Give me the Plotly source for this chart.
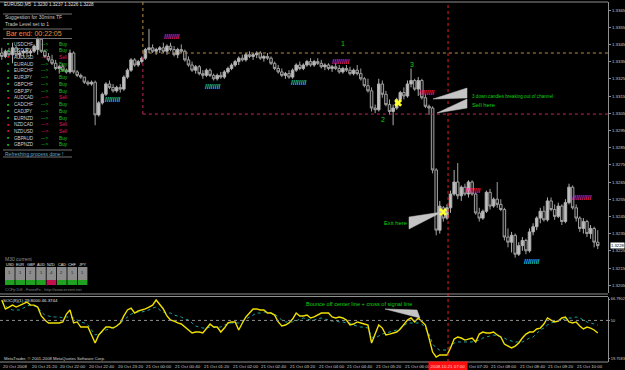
import plotly.graph_objects as go

W, H = 625, 370
FONT = "Liberation Sans"

# ---------------- data ----------------
BASE = 1.32      # prices are stored in pips above 1.3200
PIP = 0.0001

bar_open = [140,138,141,139,143,139,140,141,140,141,142,148,141,138,136,134,131,132,130,129,
            140,129,127,126,123,122,123,104,111,116,122,120,118,120,119,126,130,136,133,135,
            137,142,143,141,142,143,141,144,142,139,142,141,136,133,130,132,128,127,130,127,
            125,127,126,129,131,133,135,137,136,139,138,139,140,137,138,137,134,131,129,127,
            128,126,130,133,131,133,135,133,135,134,132,133,131,132,131,129,131,130,128,130,
            128,125,121,118,108,107,122,116,110,106,108,113,117,115,122,124,119,124,114,109,
            108,72,37,50,44,50,58,65,57,62,58,65,58,47,44,48,59,51,55,52,
            49,33,30,34,23,28,31,25,36,39,44,48,43,54,49,45,51,42,53,62,
            50,44,38,42,35,38,30]
bar_high = [143,142,143,146,144,141,142,143,142,145,149,148,142,140,139,136,133,134,131,142,
            141,130,128,126,124,124,124,112,117,123,124,122,121,122,127,131,137,137,136,138,
            143,154,145,143,144,146,145,146,144,143,145,142,138,135,133,133,130,131,131,128,
            128,129,130,132,134,136,138,139,140,141,140,141,141,139,140,138,135,133,131,129,
            130,131,134,135,134,136,137,136,137,136,134,134,133,134,133,132,133,132,131,133,
            131,126,125,120,110,125,124,118,113,110,114,118,120,124,131,125,126,125,116,110,
            109,73,54,51,52,60,72,76,63,64,66,66,59,50,49,60,61,56,65,55,
            50,38,36,35,30,33,32,38,41,45,50,51,56,56,52,53,52,55,64,63,
            52,45,44,43,40,39,37]
bar_low = [136,137,138,134,138,137,138,139,138,140,139,140,137,135,133,130,128,129,128,128,
           128,126,125,122,121,121,98,103,110,115,119,117,117,117,118,125,129,132,132,134,
           136,140,140,139,140,140,139,141,138,137,140,135,132,129,128,127,125,126,126,124,
           124,125,125,128,130,132,133,135,135,137,136,137,136,135,136,133,130,128,126,125,
           125,125,129,130,130,132,132,132,133,131,130,130,129,130,128,128,129,127,127,127,
           124,120,117,106,105,106,114,109,104,98,107,112,113,114,120,118,115,113,108,104,
           70,34,35,42,43,47,57,55,54,57,56,57,46,42,43,47,49,50,50,48,
           31,27,24,21,22,25,23,24,34,37,41,42,42,48,43,44,40,41,52,49,
           42,36,35,33,32,27,26]
bar_close = [138,141,139,143,139,140,141,140,141,144,148,141,138,136,134,131,132,130,129,140,
             129,127,126,123,122,123,104,111,116,122,120,118,120,119,126,130,136,133,135,137,
             142,143,141,142,143,141,144,142,139,142,141,136,133,130,132,128,127,130,127,125,
             127,126,129,131,133,135,137,136,139,138,139,140,137,138,137,134,131,129,127,128,
             126,130,133,131,133,135,133,135,134,132,133,131,132,131,129,131,130,128,130,128,
             125,121,118,108,107,122,116,110,106,108,113,117,115,122,124,119,124,114,109,108,
             72,37,51,44,50,58,65,57,62,58,65,58,47,44,48,59,51,55,52,49,
             33,30,34,23,28,31,25,36,39,44,48,43,54,49,45,51,42,53,62,50,
             44,38,42,35,38,30,28]

stoch_main = [66,59,60.5,62,60.5,62,63.5,64.4,62,62,60.5,53.5,50.3,48,48,48,48,48.8,55,58.2,
              48,48.8,44.8,44.8,44.8,38.6,32.3,38.6,41.7,44.8,44.8,44,45.6,48,53.5,58.2,59.7,55.8,57.4,58.2,
              59,60.5,62,66,62,59,53.5,50.3,49.5,48,47.2,44.8,42.5,40.1,40.9,40.9,40.1,43.3,47.2,44.8,
              44.8,40.9,44,48,48.8,48.8,42.5,48,52.7,55.8,59,59,58.2,58.2,55.8,55.8,54.2,48.8,45.6,46.4,
              48,51.1,55.8,53.5,53.5,54.2,51.9,52.7,54.2,55.8,55.8,55.8,52.7,51.9,52.7,51.9,50.3,46.4,47.2,48.8,
              48,47.2,46.4,32.3,39.3,46.4,44,38.6,39.3,40.1,40.9,43.3,46.4,50.3,51.9,48.8,51.9,49.5,46.4,36.2,
              25.2,21.3,22.9,22.9,22.9,28.4,35.4,37,36.2,34.6,35.4,36.2,33.1,39.3,40.9,40.1,40.1,40.9,38.6,37,
              31.5,29.9,28.4,29.9,32.3,36.2,39.3,40.9,40.9,43.3,44,47.2,51.9,50.3,48.8,49.5,51.9,52.7,48.8,48,
              48.8,45.6,43.3,44.8,44,42.5,40.1]
stoch_signal = [64.4,61.3,59,58.2,58.2,58.2,59.7,61.3,62,61.3,60.5,56.6,54.2,53.5,52.7,52.7,52.7,51.9,52.7,52.7,
                51.9,50.3,48.8,48,46.4,42.5,38.6,39.3,40.9,42.5,43.3,44.8,45.6,48,50.3,52.7,55,55.8,56.6,56.6,
                57.4,58.2,59.7,60.5,58.2,56.6,55.8,55.8,54.2,53.5,52.7,51.1,50.3,48,45.6,44.8,44,44,44.8,44.8,
                44.8,44.8,46.4,47.2,48,48,48,49.5,51.1,52.7,54.2,55.8,55.8,56.6,56.6,55.8,55,52.7,50.3,48.8,
                48.8,48.8,49.5,51.1,51.9,51.1,50.3,50.3,51.1,51.9,51.1,50.3,49.5,49.5,48.8,48.8,48,48,46.4,45.6,
                44.8,44.8,44,37,36.2,37.8,39.3,40.1,40.9,41.7,42.5,44,45.6,48,48,48,48,47.2,44,39.3,
                31.5,28.4,26.8,26.8,26.8,29.9,32.3,33.1,33.1,33.1,33.1,33.1,33.9,34.6,36.2,37,37.8,38.6,37.8,37,
                36.2,34.6,33.9,33.1,33.1,33.1,34.6,36.2,37,40.1,42.5,44,46.4,48,48.8,49.5,50.3,51.1,51.9,51.9,
                52.7,51.9,50.3,48.8,48,47.2,46.4]

stoch_level = 50
stoch_axis_vals = [19.7583, 50, 66.7902]
stoch_axis_text = ["19.7583", "50", "66.7902"]

price_ticks = [1.3365,1.3355,1.3345,1.3335,1.3325,1.3315,1.3305,1.3295,1.3285,1.3275,
               1.3265,1.3255,1.3245,1.3235,1.3225,1.3215,1.3205]

# time labels as visible in the terminal (06:40 is hidden under the cursor box,
# only "Oct 07:20" of the next label shows to its right)
time_tick_bars = [0,8,16,24,32,40,48,56,64,72,80,88,96,104,112,129.9,136,144,152,160]
time_tick_labels = ["20 Oct 2008","20 Oct 21:20","20 Oct 22:00","20 Oct 22:40","20 Oct 23:20",
                    "21 Oct 00:00","21 Oct 00:40","21 Oct 01:20","21 Oct 02:00","21 Oct 02:40",
                    "21 Oct 03:20","21 Oct 04:00","21 Oct 04:40","21 Oct 05:20","21 Oct 06:00",
                    "Oct 07:20","21 Oct 08:00","21 Oct 08:40","21 Oct 09:20",
                    "21 Oct 10:00"]
cursor_bar = 124.3
cursor_label = "2008.10.21 07:00"
last_price_label = "1.3228"

# channel box (bar where it starts, upper / lower levels in pips)
channel_start_bar = 39.3
channel_high = 140
channel_low = 104.5

# zig-zag markers: start bar, end bar, level (pips)
pink_start = [44.0, 90.6, 115.0, 127.6, 157.4]
pink_end = [51.0, 98.4, 122.0, 135.0, 166.0]
pink_level = [149.3, 134.8, 117.3, 60.3, 55.7]
cyan_start = [27.4, 55.2, 79.0, 143.8]
cyan_end = [34.3, 62.2, 86.4, 151.3]
cyan_level = [112.7, 120.8, 123.1, 18.5]

# yellow X signals
x_sig_bars = [110.4, 122.9]
x_sig_pips = [111.0, 47.6]

pairs = ["USDCHF","USDJPY","AUDUSD","EURAUD","EURCHF","EURJPY","GBPCHF","GBPJPY",
         "AUDCAD","CADCHF","CADJPY","EURNZD","NZDCAD","NZDUSD","GBPAUD","GBPNZD"]
pair_signal = ["Buy","Buy","Sell","Buy","Buy","Buy","Buy","Buy",
               "Sell","Buy","Buy","Buy","Sell","Sell","Buy","Buy"]

currencies = ["USD","EUR","GBP","AUD","NZD","CAD","CHF","JPY"]
ccy_values = [1, 1, 2, 1, -4, 2, 1, 1]

header_text = "EURUSD,M5  1.3230 1.3237 1.3226 1.3228"
osc_text = "SOC(8)(1) 29.8000 46.3744"

# ---------------- figure ----------------
bars = list(range(len(bar_close)))
to_price = lambda v: BASE + v * PIP

PX_PER_BAR = 3.59
X0 = 1.8
PLOT_R = 608
xr = [(0 - X0) / PX_PER_BAR, (PLOT_R - X0) / PX_PER_BAR]

def py(yp):  # pixel y -> paper
    return 1 - yp / H
def pxx(xp):
    return xp / W

fig = go.Figure()

fig.add_trace(go.Candlestick(
    x=bars, open=[to_price(v) for v in bar_open], high=[to_price(v) for v in bar_high],
    low=[to_price(v) for v in bar_low], close=[to_price(v) for v in bar_close],
    increasing=dict(line=dict(color="#b0b0b0", width=1), fillcolor="#c0c0c0"),
    decreasing=dict(line=dict(color="#a0a0a0", width=1), fillcolor="#141414"),
    whiskerwidth=0, hoverinfo="skip", showlegend=False, xaxis="x", yaxis="y"))

fig.add_trace(go.Scatter(x=bars, y=stoch_signal, mode="lines",
                         line=dict(color="#1fa0a0", width=1, dash="dot"),
                         hoverinfo="skip", showlegend=False, xaxis="x2", yaxis="y2"))
fig.add_trace(go.Scatter(x=bars, y=stoch_main, mode="lines",
                         line=dict(color="#f0e000", width=1.4),
                         hoverinfo="skip", showlegend=False, xaxis="x2", yaxis="y2"))

fig.add_trace(go.Scatter(x=x_sig_bars, y=[to_price(v) for v in x_sig_pips], mode="markers",
                         marker=dict(symbol="x", size=7, color="#ffff30"),
                         hoverinfo="skip", showlegend=False, xaxis="x", yaxis="y"))

main_dom = [py(293), py(2)]
osc_dom = [py(362), py(297)]
p_top = 1.3365 + 8 / 17200
p_bot = 1.3365 - 283 / 17200
o_top = 66.7902 + 2 * 0.784
o_bot = 66.7902 - 63 * 0.784

axcommon = dict(showgrid=False, zeroline=False, fixedrange=True)
fig.update_layout(
    width=W, height=H, margin=dict(l=0, r=0, t=0, b=0),
    paper_bgcolor="#000000", plot_bgcolor="#000000",
    showlegend=False, boxgap=0.3, boxgroupgap=0,
    xaxis=dict(domain=[0, PLOT_R / W], range=xr, anchor="y", showticklabels=False,
               rangeslider=dict(visible=False), **axcommon),
    xaxis2=dict(domain=[0, PLOT_R / W], range=xr, anchor="y2", showticklabels=False, **axcommon),
    yaxis=dict(domain=main_dom, range=[p_bot, p_top], side="right", anchor="x",
               tickvals=price_ticks, ticktext=["%.4f" % t for t in price_ticks],
               tickfont=dict(family=FONT, size=4.4, color="#c8c8c8"),
               ticks="outside", ticklen=2, tickcolor="#909090",
               showline=True, linecolor="#909090", linewidth=1, automargin=False, **axcommon),
    yaxis2=dict(domain=osc_dom, range=[o_bot, o_top], side="right", anchor="x2",
                tickvals=stoch_axis_vals, ticktext=stoch_axis_text,
                tickfont=dict(family=FONT, size=3.9, color="#c8c8c8"),
                ticks="outside", ticklen=1, tickcolor="#909090",
                showline=True, linecolor="#909090", linewidth=1, automargin=False, **axcommon),
)

shapes = []
def pline(x0, y0, x1, y1, color, width=1, dash="solid"):
    shapes.append(dict(type="line", xref="paper", yref="paper", x0=pxx(x0), y0=py(y0),
                       x1=pxx(x1), y1=py(y1), line=dict(color=color, width=width, dash=dash)))

# frame lines
pline(0, 2, PLOT_R, 2, "#909090")
pline(0, 294, PLOT_R, 294, "#909090")
pline(0, 296.5, PLOT_R, 296.5, "#909090")
pline(0, 362, PLOT_R, 362, "#909090")

# oscillator level
shapes.append(dict(type="line", xref="x2", yref="y2", x0=xr[0], x1=xr[1], y0=stoch_level, y1=stoch_level,
                   line=dict(color="#909090", width=1, dash="dot")))

# channel lines
shapes.append(dict(type="line", xref="x", yref="y", x0=channel_start_bar, x1=xr[1],
                   y0=to_price(channel_high), y1=to_price(channel_high),
                   line=dict(color="#b89048", width=1, dash="dot")))
shapes.append(dict(type="line", xref="x", yref="y", x0=channel_start_bar, x1=xr[1],
                   y0=to_price(channel_low), y1=to_price(channel_low),
                   line=dict(color="#c02860", width=1, dash="dot")))
shapes.append(dict(type="line", xref="x", yref="y", x0=channel_start_bar, x1=channel_start_bar,
                   y0=to_price(channel_high), y1=p_top,
                   line=dict(color="#b89048", width=1, dash="dot")))
shapes.append(dict(type="line", xref="x", yref="y", x0=channel_start_bar, x1=channel_start_bar,
                   y0=to_price(channel_low), y1=to_price(channel_high),
                   line=dict(color="#c02860", width=1, dash="dot")))

# cursor line through both panes
shapes.append(dict(type="line", xref="x", yref="paper", x0=cursor_bar, x1=cursor_bar,
                   y0=py(362), y1=py(2), line=dict(color="#e02020", width=1, dash="dot")))

# grey pointer triangles
def tri(points):
    d = "M " + " L ".join("%f,%f" % (pxx(a), py(b)) for a, b in points) + " Z"
    shapes.append(dict(type="path", xref="paper", yref="paper", path=d,
                       fillcolor="#c4c4c4", line=dict(color="#c4c4c4", width=0.5)))
tri([(433, 99), (467, 88), (467, 98)])
tri([(437, 113), (467, 99), (467, 108)])
tri([(409, 217), (409, 229), (442, 212)])
tri([(385, 309), (417, 310), (420, 318)])

# currency table cells
for k, v in enumerate(ccy_values):
    x0 = 5 + k * 10.4
    shapes.append(dict(type="rect", xref="paper", yref="paper", x0=pxx(x0), x1=pxx(x0 + 9.6),
                       y0=py(280), y1=py(267), fillcolor="#8c8c8c", line=dict(width=0)))
    shapes.append(dict(type="rect", xref="paper", yref="paper", x0=pxx(x0), x1=pxx(x0 + 9.6),
                       y0=py(285), y1=py(280), fillcolor="#20a020" if v > 0 else "#c01050",
                       line=dict(width=0)))

# panel separator lines (top-left info block)
for yy in [14, 29, 38.5, 150, 157]:
    pline(3, yy, 72, yy, "#707070")

fig.update_layout(shapes=shapes)

ann = []
def txt(x, y, s, color, size, xanchor="left", bg=None):
    d = dict(x=pxx(x), y=py(y), xref="paper", yref="paper", text=s, showarrow=False,
             xanchor=xanchor, yanchor="middle", borderpad=0,
             font=dict(family=FONT, size=size, color=color))
    if bg:
        d["bgcolor"] = bg
    ann.append(d)

# time labels
for b, lab in zip(time_tick_bars, time_tick_labels):
    ann.append(dict(x=b, y=py(366), xref="x", yref="paper", text=lab, showarrow=False,
                    xanchor="left", yanchor="middle", borderpad=0,
                    font=dict(family=FONT, size=4.4, color="#c8c8c8")))
# cursor label
ann.append(dict(x=cursor_bar, y=py(366), xref="x", yref="paper", text=cursor_label, showarrow=False,
                xanchor="center", yanchor="middle", bgcolor="#ff1010", borderpad=1.5,
                font=dict(family=FONT, size=4.4, color="#ffd0d0")))
# last price box
txt(609.5, 245, last_price_label, "#000000", 4.2, bg="#ffffff")

# zig-zag markers
for s, e, lv in zip(pink_start, pink_end, pink_level):
    n = max(3, int(round((e - s) * PX_PER_BAR / 3.2)))
    ann.append(dict(x=(s + e) / 2, y=to_price(lv), xref="x", yref="y", text="<b>" + "/" * n + "</b>",
                    showarrow=False, font=dict(family=FONT, size=7, color="#f0208c")))
for s, e, lv in zip(cyan_start, cyan_end, cyan_level):
    n = max(3, int(round((e - s) * PX_PER_BAR / 3.2)))
    ann.append(dict(x=(s + e) / 2, y=to_price(lv), xref="x", yref="y", text="<b>" + "/" * n + "</b>",
                    showarrow=False, font=dict(family=FONT, size=7, color="#20c8e0")))

# info block
txt(3, 5, header_text, "#e0e0e0", 4.6)
txt(4, 17.5, "Suggestion for 30mins TF", "#c8c8c8", 5)
txt(4, 24, "Trade Level set to 1", "#c8c8c8", 5)
txt(5, 34, "Bar end: 00:22:05", "#f08a3c", 7)
for k, (p, s) in enumerate(zip(pairs, pair_signal)):
    yy = 44 + 6.73 * k
    col = "#20c020" if s == "Buy" else "#e01852"
    txt(5.5, yy, "■", col, 3.5)
    txt(13, yy, p, "#d0d0d0", 4.6)
    txt(40, yy, "---&gt;", col, 4.6)
    txt(58, yy, s, col, 4.8)
txt(4, 153.5, "Refreshing process done !", "#60a8c8", 5)

# currency strength block
txt(4, 259, "M30 current", "#909090", 5)
for k, c in enumerate(currencies):
    txt(5 + k * 10.4 + 4.8, 265, c, "#e0e0e0", 3.8, xanchor="center")
    txt(5 + k * 10.4 + 4.8, 272, str(ccy_values[k]), "#202020", 4, xanchor="center")
txt(4, 289, "CCFp Diff - ForexFx - http://www.ervent.net", "#808080", 4)

# oscillator labels
txt(2, 300.5, osc_text, "#e0e0e0", 4.4)
txt(3, 358, "MetaTrader, © 2001-2008 MetaQuotes Software Corp.", "#d0d0d0", 4.2)

# green commentary
G = "#10d010"
txt(343, 43, "1", G, 7, xanchor="center")
txt(383, 119, "2", G, 7, xanchor="center")
txt(412, 64, "3", G, 7, xanchor="center")
txt(471, 96, "3 down candles breaking out of channel", G, 4.6)
txt(471, 105.5, "Sell here", G, 5.8)
txt(383, 223, "Exit here", G, 5.8)
txt(305, 304, "Bounce off center line + cross of signal line", G, 5.6)

fig.update_layout(annotations=ann)
fig.write_html("out.html")
